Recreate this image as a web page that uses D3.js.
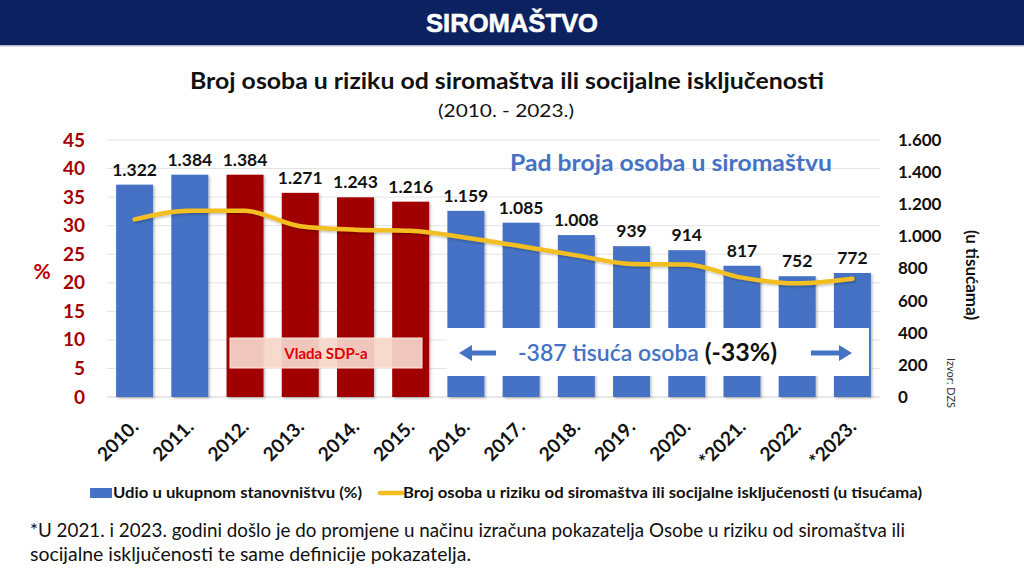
<!DOCTYPE html>
<html><head><meta charset="utf-8">
<script src="https://cdn.jsdelivr.net/npm/d3@7"></script>
<style>
html,body{margin:0;padding:0;background:#fff;}
svg{display:block;font-family:Lato, "Open Sans", sans-serif;}
</style></head>
<body>
<svg id="c" width="1024" height="576"></svg>
<script>
const categories = ["2010.","2011.","2012.","2013.","2014.","2015.","2016.","2017.","2018.","2019.","2020.","*2021.","2022.","*2023."];
const persons = [1322,1384,1384,1271,1243,1216,1159,1085,1008,939,914,817,752,772];
const shares = [31.1,32.6,32.6,29.9,29.3,29.1,27.9,26.4,24.8,23.3,23.2,20.9,19.9,20.7];
const sdpYears = ["2012.","2013.","2014.","2015."];
const leftTicks = [0,5,10,15,20,25,30,35,40,45];
const rightTicks = [0,200,400,600,800,1000,1200,1400,1600];
const fmtDots = v => d3.format(",")(v).replace(/,/g,".");

const svg = d3.select("#c");
const W = 1024, H = 576;
const X0 = 107, X1 = 880, Y0 = 397, Ytop = 140;
const BLUE = "#4472C4", RED = "#A00000", YEL = "#F2BE22", AXRED = "#A50000";

// header
svg.append("rect").attr("x",0).attr("y",0).attr("width",W).attr("height",45).attr("fill","#0B2160");
svg.append("rect").attr("x",0).attr("y",45).attr("width",W).attr("height",1.5).attr("fill","#b8bcc8");
svg.append("text").attr("x",512).attr("y",32).attr("text-anchor","middle")
  .attr("fill","#fff").attr("font-family","'Liberation Sans Narrow', 'Liberation Sans', sans-serif")
  .attr("font-weight","bold").attr("font-size",26).attr("textLength",172).attr("lengthAdjust","spacingAndGlyphs")
  .attr("stroke","#fff").attr("stroke-width",0.6)
  .text("SIROMAŠTVO");

// titles
svg.append("text").attr("x",507).attr("y",89).attr("text-anchor","middle")
  .attr("font-weight","bold").attr("font-size",22).attr("fill","#111")
  .attr("textLength",634).attr("lengthAdjust","spacingAndGlyphs")
  .text("Broj osoba u riziku od siromaštva ili socijalne isključenosti");
svg.append("text").attr("x",506).attr("y",117).attr("text-anchor","middle")
  .attr("font-size",18).attr("fill","#111")
  .attr("textLength",136).attr("lengthAdjust","spacingAndGlyphs")
  .text("(2010. - 2023.)");

// scales
const x = d3.scaleBand().domain(categories).range([X0,X1]).paddingInner(0.33).paddingOuter(0.165);
const yL = d3.scaleLinear().domain([0,45]).range([Y0,Ytop]);
const yR = d3.scaleLinear().domain([0,1600]).range([Y0,Ytop]);

// gridlines
svg.append("g").selectAll("line").data(leftTicks).join("line")
  .attr("x1",X0).attr("x2",X1).attr("y1",d=>yL(d)).attr("y2",d=>yL(d))
  .attr("stroke",d=>d===0?"#d0d0d0":"#e3e3e3").attr("stroke-width",1);

// left axis
const gL = svg.append("g").attr("transform",`translate(${X0-20},0)`)
  .call(d3.axisLeft(yL).tickValues(leftTicks).tickSize(0).tickPadding(2));
gL.select(".domain").remove();
gL.selectAll("text").attr("font-size",19).attr("font-weight","bold").attr("fill",AXRED)
  .attr("font-family","Lato, sans-serif");
svg.append("text").attr("x",42).attr("y",279).attr("text-anchor","middle")
  .attr("font-size",21).attr("font-weight","bold").attr("fill","#C00000").text("%");

// right axis
const gR = svg.append("g").attr("transform",`translate(${X1+16},0)`)
  .call(d3.axisRight(yR).tickValues(rightTicks).tickSize(0).tickPadding(2).tickFormat(fmtDots));
gR.select(".domain").remove();
gR.selectAll("text").attr("font-size",17).attr("font-weight","bold").attr("fill","#111")
  .attr("font-family","Lato, sans-serif");
svg.append("text").attr("transform","translate(966,275) rotate(90)").attr("text-anchor","middle")
  .attr("font-size",17).attr("font-weight","bold").attr("fill","#111").text("(u tisućama)");
svg.append("text").attr("transform","translate(947,383) rotate(90)").attr("text-anchor","middle")
  .attr("font-size",11).attr("fill","#333").text("Izvor: DZS");

// bars
const defs = svg.append("defs");
const f = defs.append("filter").attr("id","sh").attr("x","-20%").attr("y","-20%").attr("width","140%").attr("height","140%");
f.append("feDropShadow").attr("dx",1.5).attr("dy",1.5).attr("stdDeviation",1.2).attr("flood-color","#000").attr("flood-opacity",0.25);

svg.append("g").selectAll("rect").data(categories).join("rect")
  .attr("x",d=>x(d)).attr("width",x.bandwidth())
  .attr("y",(d,i)=>yR(persons[i])).attr("height",(d,i)=>Y0-yR(persons[i]))
  .attr("fill",d=>sdpYears.includes(d)?RED:BLUE).attr("filter","url(#sh)");

// data labels
svg.append("g").selectAll("text").data(categories).join("text")
  .attr("x",d=>x(d)+x.bandwidth()/2).attr("y",(d,i)=>yR(persons[i])-9)
  .attr("text-anchor","middle").attr("font-size",17.5).attr("font-weight","bold").attr("fill","#111")
  .text((d,i)=>fmtDots(persons[i]));

// line
const line = d3.line().x((d,i)=>x(categories[i])+x.bandwidth()/2).y(d=>yL(d)).curve(d3.curveMonotoneX);
svg.append("path").datum(shares).attr("d",line).attr("fill","none")
  .attr("stroke",YEL).attr("stroke-width",4.5).attr("stroke-linejoin","round").attr("stroke-linecap","round")
  .attr("filter","url(#sh)");

// x labels
svg.append("g").selectAll("text").data(categories).join("text")
  .attr("transform",d=>`translate(${x(d)+x.bandwidth()/2+5},${Y0+31}) rotate(-45)`)
  .attr("text-anchor","end").attr("font-size",19).attr("font-weight","bold").attr("fill","#111")
  .text(d=>d);

// Vlada SDP-a box
svg.append("rect").attr("x",230).attr("y",338).attr("width",192).attr("height",30)
  .attr("fill","#F6D6CA").attr("fill-opacity",0.93).attr("stroke","#fbe9e2").attr("stroke-width",1);
svg.append("text").attr("x",326).attr("y",359).attr("text-anchor","middle")
  .attr("font-size",15).attr("font-weight","bold").attr("fill","#E00000").text("Vlada SDP-a");

// -387 box
svg.append("rect").attr("x",447).attr("y",328).attr("width",422).attr("height",48).attr("fill","#fff");
const arrow = (xa, xb, yv) => {
  const dir = Math.sign(xb - xa);
  const head = 13;
  svg.append("line").attr("x1",xa).attr("x2",xb - dir*head).attr("y1",yv).attr("y2",yv)
    .attr("stroke",BLUE).attr("stroke-width",5);
  svg.append("path").attr("d",`M${xb},${yv} L${xb-dir*head},${yv-8} L${xb-dir*head},${yv+8} Z`).attr("fill",BLUE);
};
arrow(496, 459, 353);
arrow(811, 852, 353);
const t = svg.append("text").attr("x",518).attr("y",361);
t.append("tspan").attr("font-size",23).attr("font-weight",600).attr("fill",BLUE).text("-387 tisuća osoba ");
t.append("tspan").attr("font-size",25).attr("font-weight","bold").attr("fill","#111").text("(-33%)");

// Pad broja text
svg.append("text").attr("x",671).attr("y",171).attr("text-anchor","middle")
  .attr("font-size",22).attr("font-weight","bold").attr("fill",BLUE)
  .attr("textLength",322).attr("lengthAdjust","spacingAndGlyphs")
  .text("Pad broja osoba u siromaštvu");

// legend
svg.append("rect").attr("x",90).attr("y",488).attr("width",22).attr("height",10).attr("fill",BLUE);
svg.append("text").attr("x",113).attr("y",498).attr("font-size",15.5).attr("font-weight","bold").attr("fill","#111")
  .attr("textLength",249).attr("lengthAdjust","spacingAndGlyphs").text("Udio u ukupnom stanovništvu (%)");
svg.append("line").attr("x1",380).attr("x2",402).attr("y1",493).attr("y2",493)
  .attr("stroke",YEL).attr("stroke-width",4.5).attr("stroke-linecap","round");
svg.append("text").attr("x",403).attr("y",498).attr("font-size",15.5).attr("font-weight","bold").attr("fill","#111")
  .attr("textLength",519).attr("lengthAdjust","spacingAndGlyphs")
  .text("Broj osoba u riziku od siromaštva ili socijalne isključenosti (u tisućama)");

// footnote
svg.append("text").attr("x",30).attr("y",537).attr("font-size",18.5).attr("fill","#111")
  .attr("textLength",875).attr("lengthAdjust","spacingAndGlyphs")
  .text("*U 2021. i 2023. godini došlo je do promjene u načinu izračuna pokazatelja Osobe u riziku od siromaštva ili");
svg.append("text").attr("x",30).attr("y",561).attr("font-size",18.5).attr("fill","#111")
  .attr("textLength",441).attr("lengthAdjust","spacingAndGlyphs")
  .text("socijalne isključenosti te same definicije pokazatelja.");
</script>
</body></html>
